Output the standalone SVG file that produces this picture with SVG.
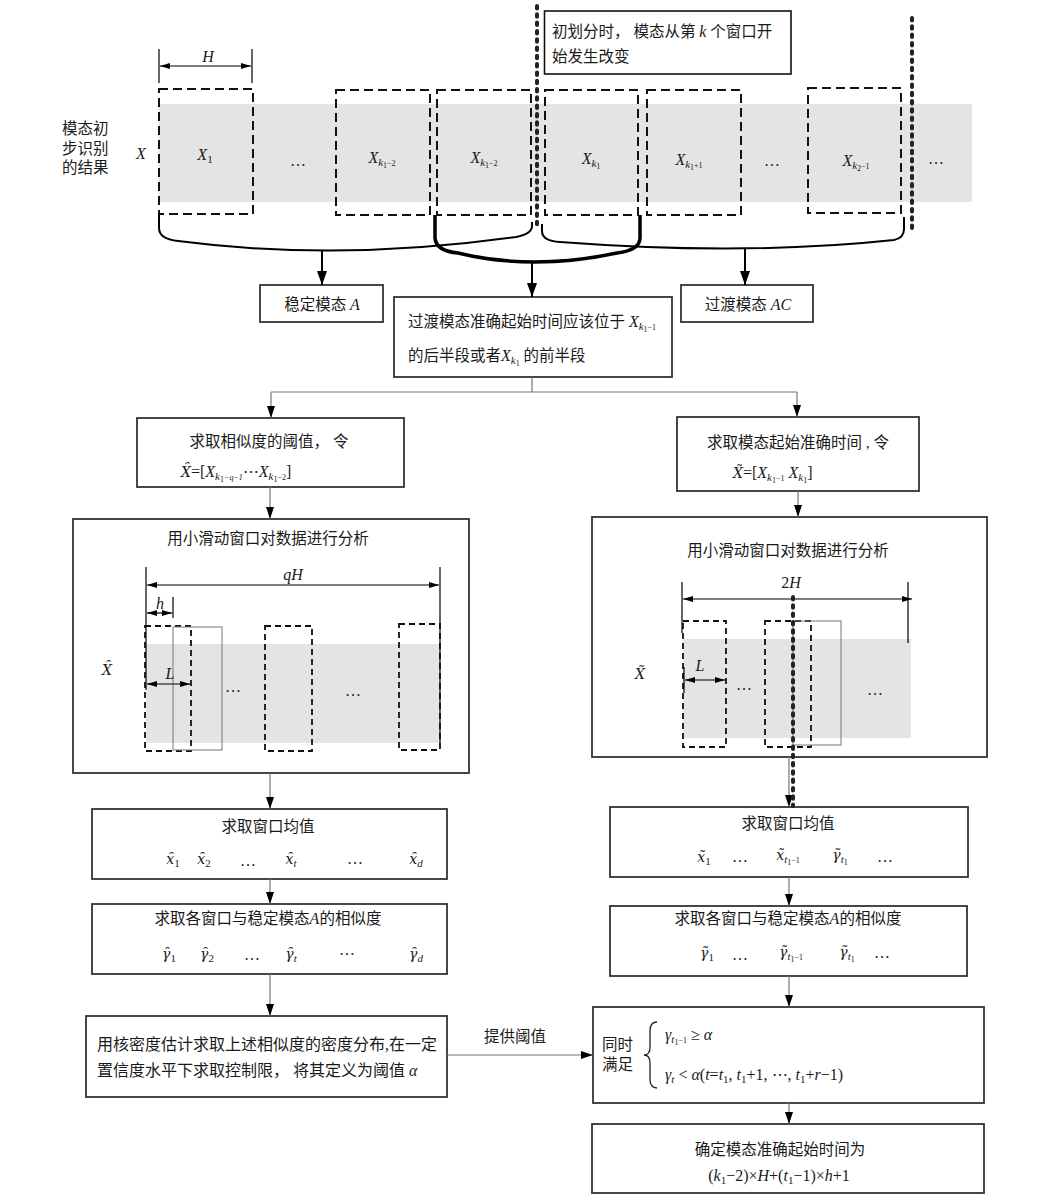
<svg xmlns="http://www.w3.org/2000/svg" width="1054" height="1202" viewBox="0 0 1054 1202">
<defs>
<style>
.cn{font-family:"Liberation Serif","Noto Sans CJK SC",serif;font-size:15.5px;fill:#1a1a1a}
.m{font-family:"Liberation Serif","DejaVu Serif",serif;font-style:italic;font-size:16px;fill:#1a1a1a}
.acc{font-family:"DejaVu Serif",serif;font-size:14px}
.u{font-style:normal}
.s{font-size:11px}
.ss{font-size:8px}
.box{fill:#fff;stroke:#333;stroke-width:1.8}
.band{fill:#e4e4e4}
.win{fill:none;stroke:#111;stroke-width:2;stroke-dasharray:9 5}
.win2{fill:none;stroke:#111;stroke-width:1.8;stroke-dasharray:6 4}
.thin{fill:none;stroke:#777;stroke-width:1}
.dot{fill:none;stroke:#222;stroke-width:4;stroke-dasharray:2.5 5.8;stroke-linecap:round}
.conn{fill:none;stroke:#777;stroke-width:1.2}
.brace{fill:none;stroke:#000;stroke-width:2}
.big{fill:none;stroke:#000;stroke-width:2}
.dim{fill:none;stroke:#000;stroke-width:1.2}
</style>
<marker id="bigh" viewBox="0 0 14 10" refX="14" refY="5" markerWidth="14" markerHeight="10" markerUnits="userSpaceOnUse" orient="auto"><path d="M0,0 L14,5 L0,10 z" fill="#000"/></marker>
<marker id="arr" viewBox="0 0 12 8" refX="12" refY="4" markerWidth="12" markerHeight="8" markerUnits="userSpaceOnUse" orient="auto"><path d="M0,0 L12,4 L0,8 z" fill="#000"/></marker>
<marker id="dh" viewBox="0 0 10 6" refX="10" refY="3" markerWidth="10" markerHeight="6" markerUnits="userSpaceOnUse" orient="auto-start-reverse"><path d="M0,0 L10,3 L0,6 z" fill="#000"/></marker>
</defs>
<rect width="1054" height="1202" fill="#fff"/>

<g id="n-input">
<text class="cn" x="62" y="134">模态初</text>
<text class="cn" x="62" y="154">步识别</text>
<text class="cn" x="62" y="173">的结果</text>
<text class="m" x="136" y="159">X</text>
<rect class="band" x="159" y="104" width="813" height="98"/>
<line class="dim" x1="159" y1="49" x2="159" y2="83"/>
<line class="dim" x1="252" y1="49" x2="252" y2="83"/>
<line class="dim" x1="160" y1="66" x2="251" y2="66" marker-start="url(#dh)" marker-end="url(#dh)"/>
<text class="m" x="208" y="62" text-anchor="middle">H</text>
<rect class="win" x="159" y="89" width="94" height="125"/>
<rect class="win" x="336" y="90" width="94" height="125"/>
<rect class="win" x="437" y="90" width="94" height="125"/>
<rect class="win" x="545" y="90" width="93" height="125"/>
<rect class="win" x="647" y="90" width="94" height="125"/>
<rect class="win" x="808" y="88" width="93" height="125"/>
<text class="m" x="205" y="160" text-anchor="middle">X<tspan class="s u" dy="3">1</tspan></text>
<text class="m u" x="298" y="166" text-anchor="middle">…</text>
<text class="m" x="382" y="163" text-anchor="middle">X<tspan class="s" dy="3">k</tspan><tspan class="ss u" dy="2">1</tspan><tspan class="ss u" dy="-2">−2</tspan></text>
<text class="m" x="484" y="163" text-anchor="middle">X<tspan class="s" dy="3">k</tspan><tspan class="ss u" dy="2">1</tspan><tspan class="ss u" dy="-2">−2</tspan></text>
<text class="m" x="591" y="164" text-anchor="middle">X<tspan class="s" dy="3">k</tspan><tspan class="ss u" dy="2">1</tspan></text>
<text class="m" x="689" y="165" text-anchor="middle">X<tspan class="s" dy="3">k</tspan><tspan class="ss u" dy="2">1</tspan><tspan class="ss u" dy="-2">+1</tspan></text>
<text class="m u" x="772" y="166" text-anchor="middle">…</text>
<text class="m" x="856" y="166" text-anchor="middle">X<tspan class="s" dy="3">k</tspan><tspan class="ss u" dy="2">2</tspan><tspan class="ss u" dy="-2">−1</tspan></text>
<text class="m u" x="936" y="164" text-anchor="middle">…</text>
<line class="dot" x1="537" y1="6" x2="537" y2="225"/>
<line class="dot" x1="912" y1="18" x2="912" y2="233"/>
</g>

<g id="n-note">
<rect x="544.5" y="11" width="246.5" height="63" fill="#fff" stroke="#111" stroke-width="1.6"/>
<text class="cn" x="552" y="37">初划分时， 模态从第 <tspan class="m">k</tspan> 个窗口开</text>
<text class="cn" x="552" y="62">始发生改变</text>
</g>

<g id="n-stable">
<rect class="box" x="260" y="285" width="123" height="37"/>
<text class="cn" x="322" y="310" text-anchor="middle">稳定模态 <tspan class="m">A</tspan></text>
</g>

<g id="n-transition">
<rect class="box" x="681" y="285" width="132" height="37"/>
<text class="cn" x="748" y="310" text-anchor="middle">过渡模态 <tspan class="m">AC</tspan></text>
</g>

<g id="n-range">
<rect class="box" x="394" y="297" width="278" height="80"/>
<text class="cn" x="408" y="327">过渡模态准确起始时间应该位于 <tspan class="m">X</tspan><tspan class="m s" dy="3">k</tspan><tspan class="m ss u" dy="2">1</tspan><tspan class="m ss u" dy="-2">−1</tspan></text>
<text class="cn" x="408" y="361">的后半段或者<tspan class="m">X</tspan><tspan class="m s" dy="3">k</tspan><tspan class="m ss u" dy="2">1</tspan><tspan dy="-5"> 的前半段</tspan></text>
</g>

<g id="n-threshold">
<rect class="box" x="137" y="418" width="267" height="69"/>
<text class="cn" x="269" y="447" text-anchor="middle">求取相似度的阈值， 令</text>
<text class="m" x="181" y="477"><tspan class="acc">X&#x311;</tspan><tspan class="u">=[</tspan>X<tspan class="s" dy="3">k</tspan><tspan class="ss u" dy="2">1</tspan><tspan class="ss" dy="-2">−q−1</tspan><tspan class="u" dy="-3">⋯</tspan>X<tspan class="s" dy="3">k</tspan><tspan class="ss u" dy="2">1</tspan><tspan class="ss u" dy="-2">−2</tspan><tspan class="u" dy="-3">]</tspan></text>
</g>

<g id="n-starttime">
<rect class="box" x="677" y="417" width="242" height="74"/>
<text class="cn" x="798" y="448" text-anchor="middle">求取模态起始准确时间 , 令</text>
<text class="m" x="733" y="478"><tspan class="acc">X&#x303;</tspan><tspan class="u">=[</tspan>X<tspan class="s" dy="3">k</tspan><tspan class="ss u" dy="2">1</tspan><tspan class="ss u" dy="-2">−1</tspan><tspan dy="-3"> X</tspan><tspan class="s" dy="3">k</tspan><tspan class="ss u" dy="2">1</tspan><tspan class="u" dy="-5">]</tspan></text>
</g>

<g id="n-window-left">
<rect class="box" x="73" y="519" width="396" height="254"/>
<text class="cn" x="268" y="544" text-anchor="middle">用小滑动窗口对数据进行分析</text>
<rect class="band" x="146" y="644" width="294" height="99"/>
<line class="dim" x1="146" y1="567" x2="146" y2="690"/>
<line class="dim" x1="440" y1="567" x2="440" y2="743"/>
<line class="dim" x1="147" y1="585" x2="439" y2="585" marker-start="url(#dh)" marker-end="url(#dh)"/>
<text class="m" x="293" y="580" text-anchor="middle">qH</text>
<line class="dim" x1="173" y1="597" x2="173" y2="618"/>
<line class="dim" x1="147" y1="613" x2="172" y2="613" marker-start="url(#dh)" marker-end="url(#dh)"/>
<text class="m" x="160" y="609" text-anchor="middle">h</text>
<rect class="win2" x="145" y="626" width="46" height="125"/>
<rect class="thin" x="173" y="627" width="49" height="123"/>
<rect class="win2" x="265" y="626" width="47" height="125"/>
<rect class="win2" x="399" y="624" width="41" height="126"/>
<line class="dim" x1="147" y1="684" x2="190" y2="684" marker-start="url(#dh)" marker-end="url(#dh)"/>
<text class="m" x="170" y="679" text-anchor="middle">L</text>
<text class="m u" x="233" y="692" text-anchor="middle">…</text>
<text class="m u" x="353" y="696" text-anchor="middle">…</text>
<text class="m acc" x="107" y="675" text-anchor="middle">X&#x311;</text>
</g>

<g id="n-window-right">
<rect class="box" x="592" y="517" width="395" height="240"/>
<text class="cn" x="788" y="556" text-anchor="middle">用小滑动窗口对数据进行分析</text>
<rect class="band" x="683" y="639" width="228" height="99"/>
<line class="dim" x1="682" y1="582" x2="682" y2="633"/>
<line class="dim" x1="908" y1="582" x2="908" y2="643"/>
<line class="dim" x1="683" y1="599" x2="912" y2="599" marker-start="url(#dh)" marker-end="url(#dh)"/>
<text class="m" x="791" y="588" text-anchor="middle"><tspan class="u">2</tspan>H</text>
<rect class="win2" x="683" y="621" width="43" height="126"/>
<rect class="win2" x="765" y="621" width="46" height="126"/>
<rect class="thin" x="793" y="621" width="48" height="124"/>
<line class="dim" x1="684" y1="667" x2="684" y2="693"/>
<line class="dim" x1="685" y1="680" x2="725" y2="680" marker-start="url(#dh)" marker-end="url(#dh)"/>
<text class="m" x="700" y="671" text-anchor="middle">L</text>
<text class="m u" x="744" y="690" text-anchor="middle">…</text>
<text class="m u" x="875" y="695" text-anchor="middle">…</text>
<text class="m acc" x="640" y="679" text-anchor="middle">X&#x303;</text>
</g>

<g id="n-mean-left">
<rect class="box" x="92" y="809" width="355" height="70"/>
<text class="cn" x="268" y="832" text-anchor="middle">求取窗口均值</text>
<text class="m" x="173" y="864" text-anchor="middle"><tspan class="acc">x&#x311;</tspan><tspan class="s u" dy="3">1</tspan></text>
<text class="m" x="204" y="864" text-anchor="middle"><tspan class="acc">x&#x311;</tspan><tspan class="s u" dy="3">2</tspan></text>
<text class="m u" x="248" y="866" text-anchor="middle">…</text>
<text class="m" x="291" y="864" text-anchor="middle"><tspan class="acc">x&#x311;</tspan><tspan class="s" dy="3">t</tspan></text>
<text class="m u" x="355" y="864" text-anchor="middle">…</text>
<text class="m" x="416" y="864" text-anchor="middle"><tspan class="acc">x&#x311;</tspan><tspan class="s" dy="3">d</tspan></text>
</g>

<g id="n-sim-left">
<rect class="box" x="92" y="904" width="355" height="70"/>
<text class="cn" x="268" y="924" text-anchor="middle">求取各窗口与稳定模态<tspan class="m">A</tspan>的相似度</text>
<text class="m" x="169" y="959" text-anchor="middle"><tspan class="acc">γ&#x311;</tspan><tspan class="s u" dy="3">1</tspan></text>
<text class="m" x="207" y="959" text-anchor="middle"><tspan class="acc">γ&#x311;</tspan><tspan class="s u" dy="3">2</tspan></text>
<text class="m u" x="252" y="960" text-anchor="middle">…</text>
<text class="m" x="291" y="959" text-anchor="middle"><tspan class="acc">γ&#x311;</tspan><tspan class="s" dy="3">t</tspan></text>
<text class="m u" x="347" y="955" text-anchor="middle">…</text>
<text class="m" x="416" y="959" text-anchor="middle"><tspan class="acc">γ&#x311;</tspan><tspan class="s" dy="3">d</tspan></text>
</g>

<g id="n-kde">
<rect class="box" x="86" y="1016" width="361" height="81"/>
<text class="cn" x="97" y="1050" style="font-size:16px">用核密度估计求取上述相似度的密度分布,在一定</text>
<text class="cn" x="97" y="1076" style="font-size:16px">置信度水平下求取控制限， 将其定义为阈值 <tspan class="m">α</tspan></text>
</g>

<g id="n-mean-right">
<rect class="box" x="610" y="807" width="358" height="70"/>
<text class="cn" x="788" y="829" text-anchor="middle">求取窗口均值</text>
<text class="m" x="704" y="862" text-anchor="middle"><tspan class="acc">x&#x303;</tspan><tspan class="s u" dy="3">1</tspan></text>
<text class="m u" x="740" y="862" text-anchor="middle">…</text>
<text class="m" x="788" y="860" text-anchor="middle"><tspan class="acc">x&#x303;</tspan><tspan class="s" dy="3">t</tspan><tspan class="ss u" dy="2">1</tspan><tspan class="ss u" dy="-2">−1</tspan></text>
<text class="m" x="840" y="860" text-anchor="middle"><tspan class="acc">γ&#x303;</tspan><tspan class="s" dy="3">t</tspan><tspan class="ss u" dy="2">1</tspan></text>
<text class="m u" x="885" y="862" text-anchor="middle">…</text>
</g>

<g id="n-sim-right">
<rect class="box" x="610" y="906" width="357" height="70"/>
<text class="cn" x="788" y="924" text-anchor="middle">求取各窗口与稳定模态<tspan class="m">A</tspan>的相似度</text>
<text class="m" x="707" y="958" text-anchor="middle"><tspan class="acc">γ&#x303;</tspan><tspan class="s u" dy="3">1</tspan></text>
<text class="m u" x="740" y="960" text-anchor="middle">…</text>
<text class="m" x="791" y="957" text-anchor="middle"><tspan class="acc">γ&#x303;</tspan><tspan class="s" dy="3">t</tspan><tspan class="ss u" dy="2">1</tspan><tspan class="ss u" dy="-2">−1</tspan></text>
<text class="m" x="847" y="957" text-anchor="middle"><tspan class="acc">γ&#x303;</tspan><tspan class="s" dy="3">t</tspan><tspan class="ss u" dy="2">1</tspan></text>
<text class="m u" x="882" y="958" text-anchor="middle">…</text>
</g>

<g id="n-condition">
<rect class="box" x="593" y="1007" width="391" height="96"/>
<text class="cn" x="602" y="1050">同时</text>
<text class="cn" x="602" y="1070">满足</text>
<path d="M657,1022 Q650,1022 650,1031 V1047 Q650,1055 644,1055 Q650,1055 650,1063 V1079 Q650,1088 657,1088" fill="none" stroke="#222" stroke-width="1.3"/>
<text class="m" x="665" y="1040">γ<tspan class="s" dy="3">t</tspan><tspan class="ss u" dy="2">1</tspan><tspan class="ss u" dy="-2">−1</tspan><tspan class="u" dy="-3"> ≥ </tspan>α</text>
<text class="m" x="665" y="1080">γ<tspan class="s" dy="3">t</tspan><tspan class="u" dy="-3"> &lt; </tspan>α<tspan class="u">(</tspan>t<tspan class="u">=</tspan>t<tspan class="s u" dy="3">1</tspan><tspan class="u" dy="-3">, </tspan>t<tspan class="s u" dy="3">1</tspan><tspan class="u" dy="-3">+1, ⋯, </tspan>t<tspan class="s u" dy="3">1</tspan><tspan class="u" dy="-3">+</tspan>r<tspan class="u">−1)</tspan></text>
</g>

<g id="n-result">
<rect class="box" x="592" y="1124" width="392" height="69"/>
<text class="cn" x="780" y="1155" text-anchor="middle">确定模态准确起始时间为</text>
<text class="m" x="779" y="1181" text-anchor="middle"><tspan class="u">(</tspan>k<tspan class="s u" dy="3">1</tspan><tspan class="u" dy="-3">−2)×</tspan>H<tspan class="u">+(</tspan>t<tspan class="s u" dy="3">1</tspan><tspan class="u" dy="-3">−1)×</tspan>h<tspan class="u">+1</tspan></text>
</g>

<g id="connectors">
<path class="brace" d="M159,215 V228 Q159,239 178,241 Q340,262 516,237 Q532,234 532,226 V222"/>
<path class="brace" d="M542,224 V231 Q542,241 560,242 Q745,256 894,240 Q904,238 904,229 V217"/>
<path class="brace" style="stroke-width:3.5" d="M435,215 V238 Q436,251 458,253 Q532,271 617,253 Q640,250 640,238 V215"/>
<line class="big" x1="322" y1="251" x2="322" y2="285" marker-end="url(#bigh)"/>
<line class="big" x1="532" y1="262" x2="532" y2="297" marker-end="url(#bigh)"/>
<line class="big" x1="745" y1="249" x2="745" y2="285" marker-end="url(#bigh)"/>
<path class="conn" d="M532,377 V392 M271,392 H797"/>
<line class="conn" x1="271" y1="392" x2="271" y2="418" marker-end="url(#arr)"/>
<line class="conn" x1="797" y1="392" x2="797" y2="417" marker-end="url(#arr)"/>
<line class="conn" x1="270" y1="487" x2="270" y2="519" marker-end="url(#arr)"/>
<line class="conn" x1="798" y1="491" x2="798" y2="517" marker-end="url(#arr)"/>
<line class="conn" x1="270" y1="773" x2="270" y2="809" marker-end="url(#arr)"/>
<line class="conn" x1="789" y1="757" x2="789" y2="807" marker-end="url(#arr)"/>
<line class="dot" x1="793" y1="597" x2="793" y2="806"/>
<line class="conn" x1="270" y1="879" x2="270" y2="904" marker-end="url(#arr)"/>
<line class="conn" x1="270" y1="974" x2="270" y2="1016" marker-end="url(#arr)"/>
<line class="conn" x1="789" y1="877" x2="789" y2="906" marker-end="url(#arr)"/>
<line class="conn" x1="789" y1="976" x2="789" y2="1007" marker-end="url(#arr)"/>
<line class="conn" x1="789" y1="1103" x2="789" y2="1124" marker-end="url(#arr)"/>
<line class="conn" x1="447" y1="1055" x2="593" y2="1055" marker-end="url(#arr)"/>
<text class="cn" x="515" y="1042" text-anchor="middle">提供阈值</text>
</g>
</svg>
